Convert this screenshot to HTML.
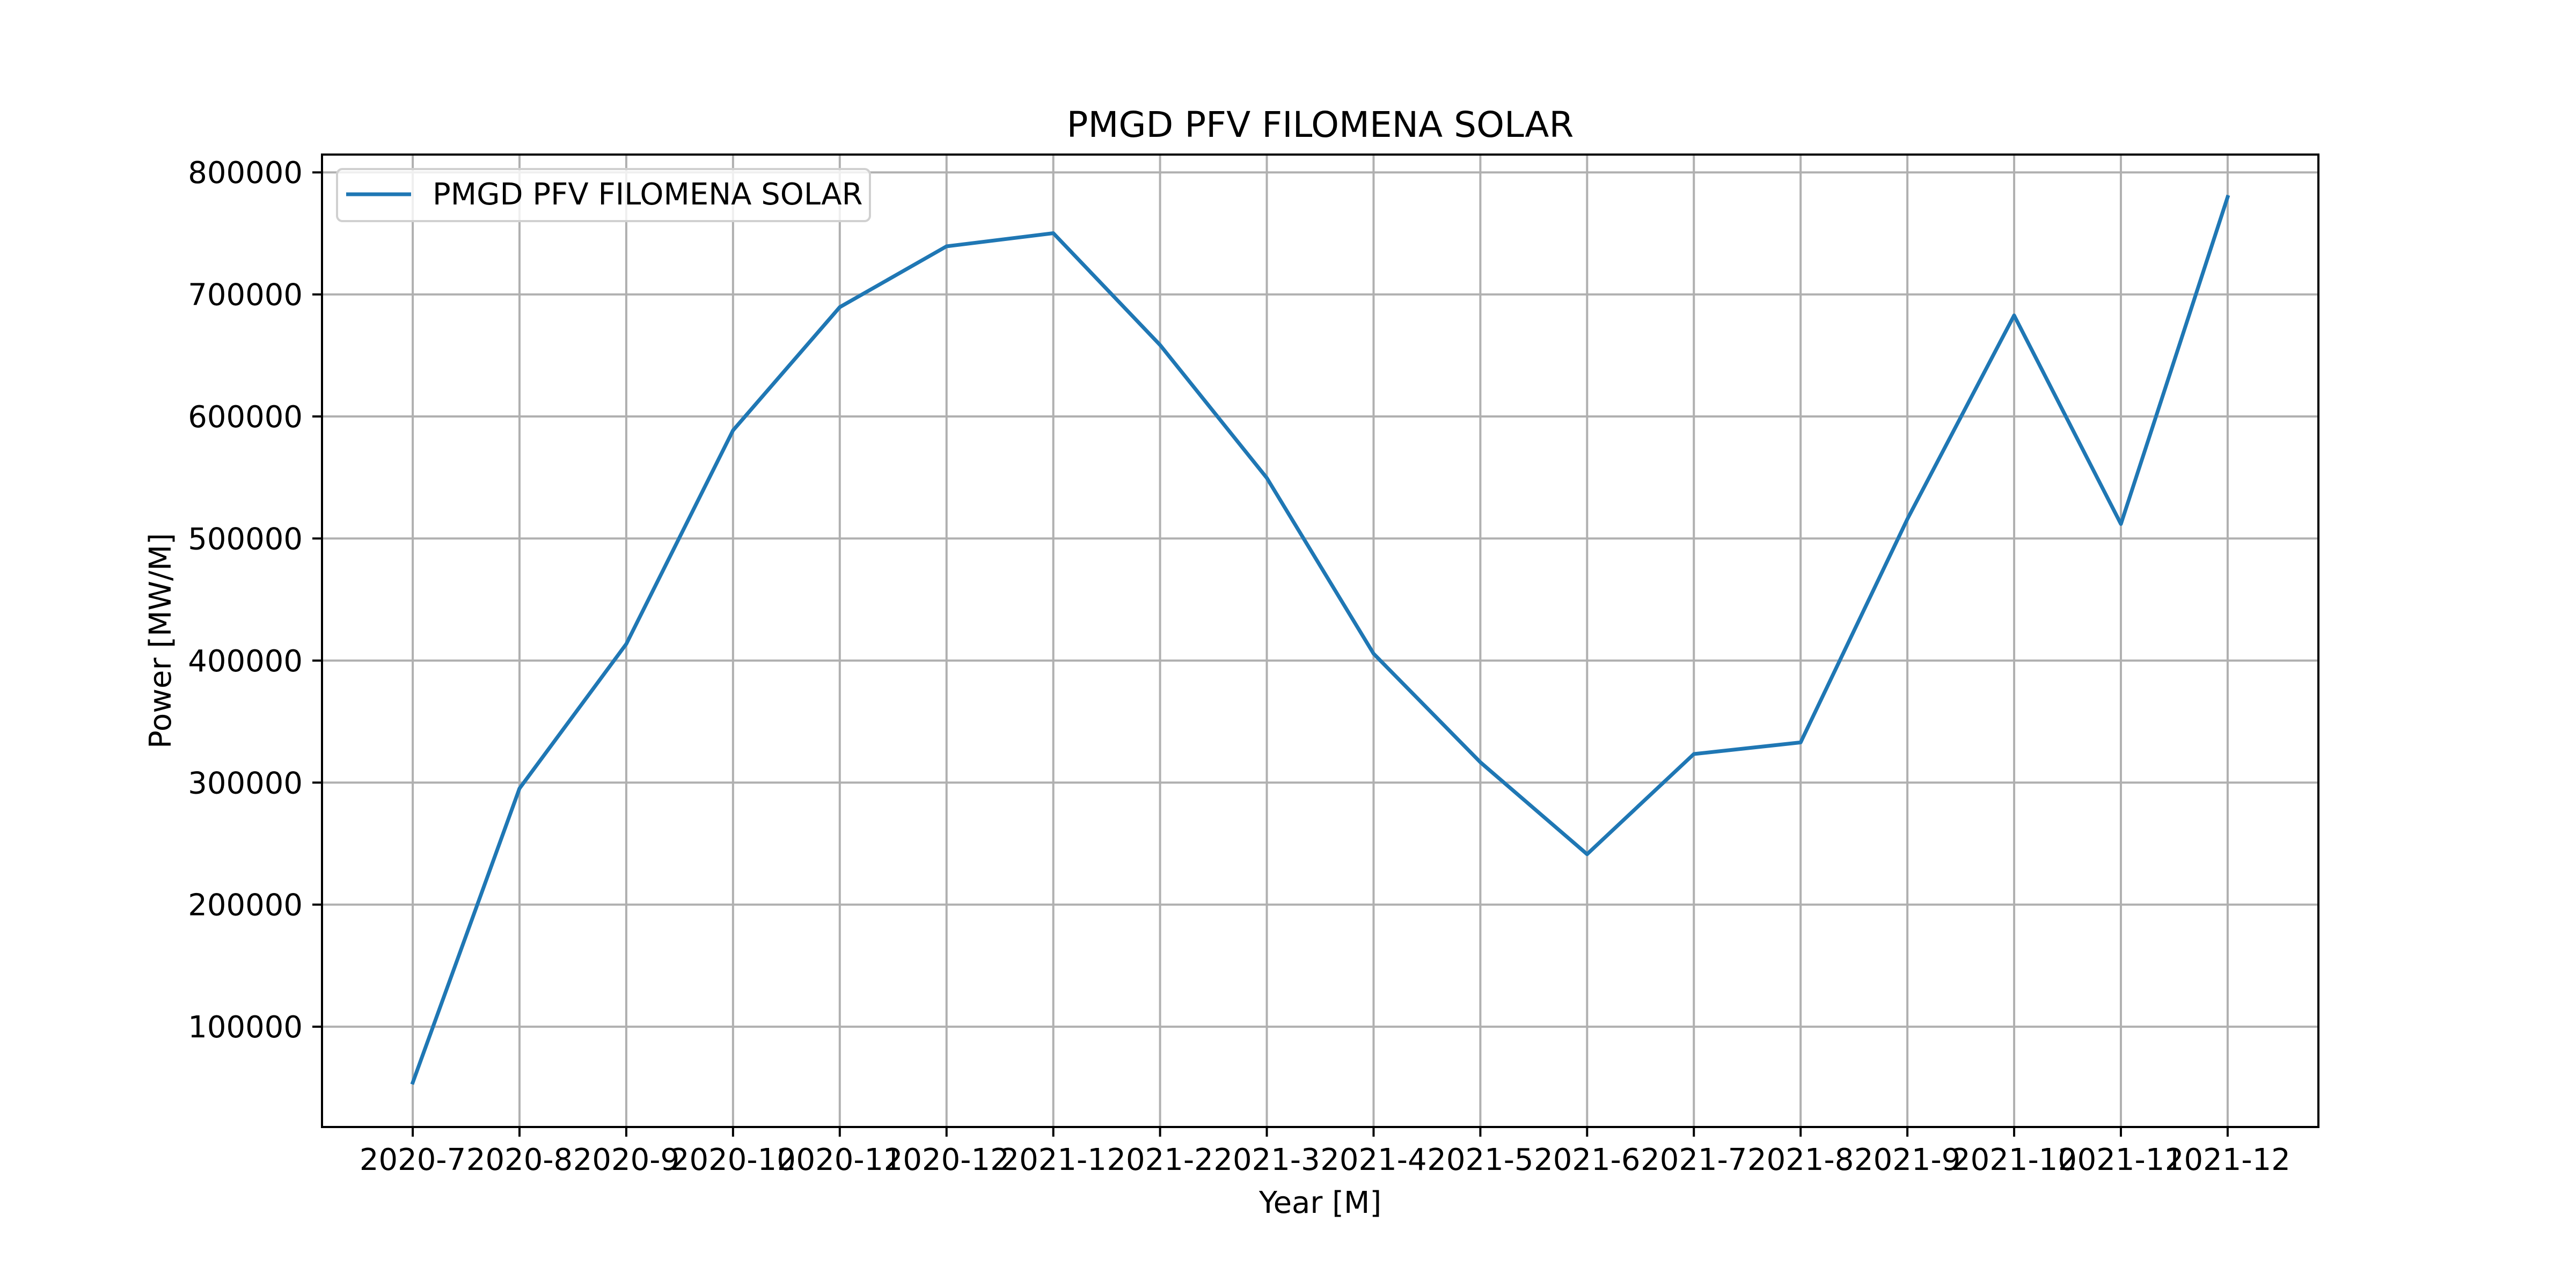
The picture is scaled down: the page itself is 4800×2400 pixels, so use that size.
<!DOCTYPE html>
<html><head><meta charset="utf-8"><style>
html,body{margin:0;padding:0;background:#fff;}
svg{display:block;font-family:"DejaVu Sans","Liberation Sans",sans-serif;}
</style></head><body>
<svg id="chart" width="4800" height="2400" viewBox="0 0 4800 2400" xmlns="http://www.w3.org/2000/svg">
<rect width="4800" height="2400" fill="#fff"/>
<g id="grid"></g>
<g id="series"></g>
<rect x="600" y="288" width="3720" height="1812" fill="none" stroke="#000" stroke-width="4"/>
<g id="ticks"></g>
<text x="2460" y="255" font-size="66" text-anchor="middle">PMGD PFV FILOMENA SOLAR</text>
<text x="2460" y="2260" font-size="56" text-anchor="middle">Year [M]</text>
<text x="318" y="1194" font-size="56" text-anchor="middle" transform="rotate(-90 318 1194)">Power [MW/M]</text>
<g>
<rect x="628" y="315" width="993" height="97" rx="10" fill="#fff" fill-opacity="0.8" stroke="#d0d0d0" stroke-width="4"/>
<line x1="645" y1="362" x2="766" y2="362" stroke="#1f77b4" stroke-width="7"/>
<text x="806" y="381" font-size="56">PMGD PFV FILOMENA SOLAR</text>
</g>
</svg>
<script>
const categories = ["2020-7","2020-8","2020-9","2020-10","2020-11","2020-12","2021-1","2021-2","2021-3","2021-4","2021-5","2021-6","2021-7","2021-8","2021-9","2021-10","2021-11","2021-12"];
const powerValues = [54200,295200,413600,588600,689600,739400,750200,658600,549600,405600,316700,241300,323400,332900,515900,682800,511900,779800];
const yTicks = [100000,200000,300000,400000,500000,600000,700000,800000];
const yTickLabels = ["100000","200000","300000","400000","500000","600000","700000","800000"];

const NS = "http://www.w3.org/2000/svg";
const L = 600, R = 4320, T = 288, B = 2100;
const xMin = -0.85, xMax = categories.length - 1 + 0.85;
const yMin = 17800, yMax = 814600;
function xs(i){ return L + (i - xMin) / (xMax - xMin) * (R - L); }
function ys(v){ return B - (v - yMin) / (yMax - yMin) * (B - T); }
function mk(tag, attrs, parent){ const e = document.createElementNS(NS, tag); for (const k in attrs) e.setAttribute(k, attrs[k]); parent.appendChild(e); return e; }

const grid = document.getElementById('grid');
const ticks = document.getElementById('ticks');
const series = document.getElementById('series');

categories.forEach((c, i) => {
  const x = xs(i);
  const g = mk('line', {x1:x, y1:T, x2:x, y2:B, stroke:'#b0b0b0', 'stroke-width':4}, grid);
  
  
  const t = mk('line', {x1:x, y1:B, x2:x, y2:B+18, stroke:'#000', 'stroke-width':4}, ticks);
  
  
  const lb = mk('text', {x:x, y:2180, 'font-size':56, 'text-anchor':'middle'}, ticks);
  lb.textContent = c;
  
  
});

yTicks.forEach((v, i) => {
  const y = ys(v);
  const g = mk('line', {x1:L, y1:y, x2:R, y2:y, stroke:'#b0b0b0', 'stroke-width':4}, grid);
  
  
  const t = mk('line', {x1:L-18, y1:y, x2:L, y2:y, stroke:'#000', 'stroke-width':4}, ticks);
  
  
  const lb = mk('text', {x:L-36, y:y+20, 'font-size':56, 'text-anchor':'end'}, ticks);
  lb.textContent = yTickLabels[i];
  
  
});

const pts = powerValues.map((v, i) => xs(i).toFixed(1) + ',' + ys(v).toFixed(1)).join(' ');
const line = mk('polyline', {points:pts, fill:'none', stroke:'#1f77b4', 'stroke-width':7, 'stroke-linejoin':'round', 'stroke-linecap':'square'}, series);


</script>
</body></html>
